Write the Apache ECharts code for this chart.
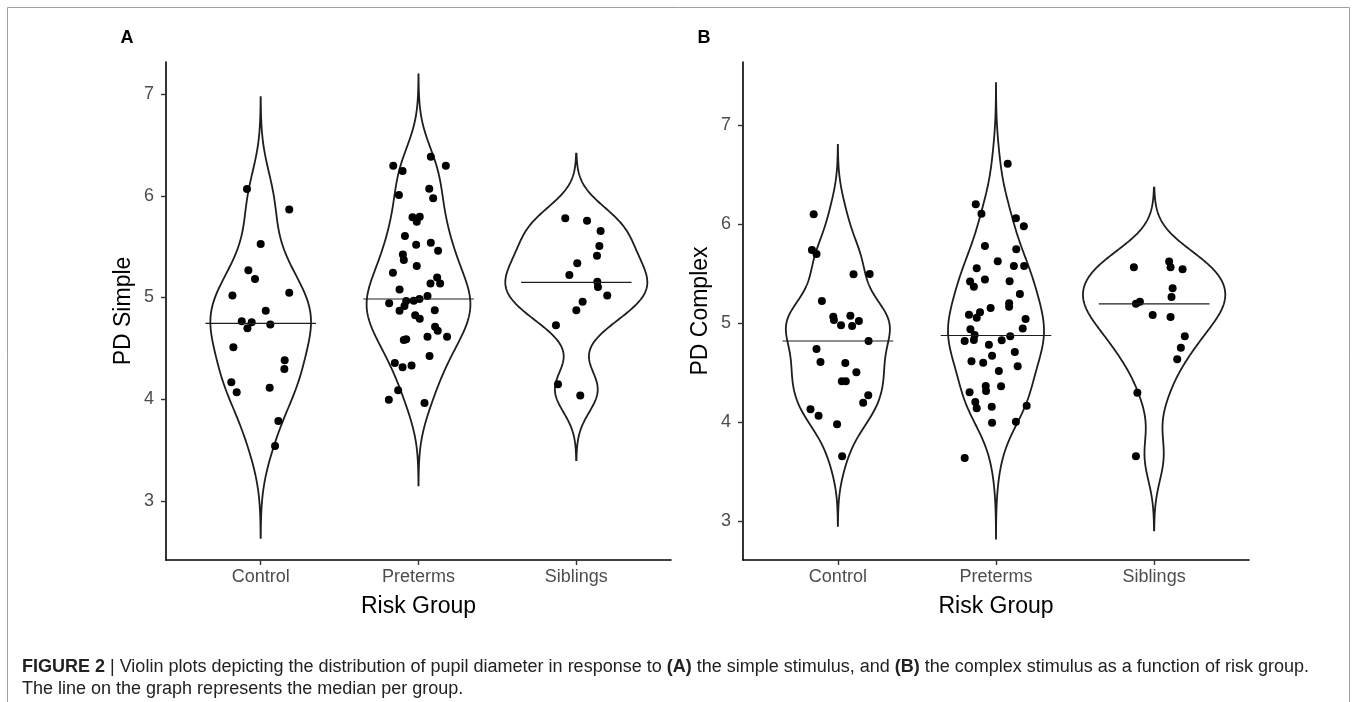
<!DOCTYPE html>
<html>
<head>
<meta charset="utf-8">
<script src="https://cdn.jsdelivr.net/npm/echarts@6/dist/echarts.min.js"></script>
<style>
html,body{margin:0;padding:0;background:#fff;}
#chart{width:1357px;height:702px;}
</style>
</head>
<body>
<div id="chart"></div>
<script>
// ---------- data ----------
const groups = ['Control', 'Preterms', 'Siblings'];
const yTicksSimple = [3, 4, 5, 6, 7];
const yTicksComplex = [3, 4, 5, 6, 7];

// [horizontal jitter offset from group centre, pupil diameter]
const simpleControl = [[-0.087,6.066],[0.181,5.866],[0.0,5.526],[-0.078,5.267],[-0.036,5.182],[-0.179,5.021],[0.181,5.047],[0.032,4.871],[-0.120,4.766],[-0.057,4.756],[-0.084,4.697],[0.061,4.736],[-0.173,4.510],[0.152,4.383],[0.150,4.297],[-0.186,4.166],[-0.152,4.068],[0.057,4.114],[0.112,3.786],[0.091,3.541]];
const simplePreterms = [[-0.160,6.296],[-0.101,6.243],[0.078,6.384],[0.173,6.296],[-0.124,6.007],[0.068,6.070],[0.093,5.975],[-0.038,5.788],[0.008,5.794],[-0.011,5.745],[-0.086,5.604],[-0.015,5.519],[0.078,5.539],[0.124,5.460],[-0.099,5.424],[-0.093,5.368],[-0.011,5.310],[-0.162,5.244],[0.118,5.198],[0.076,5.139],[0.137,5.139],[-0.120,5.080],[0.057,5.015],[-0.186,4.943],[-0.078,4.966],[-0.030,4.969],[0.006,4.985],[-0.120,4.871],[-0.089,4.917],[0.103,4.875],[-0.021,4.825],[0.008,4.792],[0.105,4.713],[0.122,4.674],[0.181,4.615],[0.057,4.615],[-0.093,4.582],[-0.078,4.589],[0.070,4.425],[-0.150,4.356],[-0.101,4.314],[-0.044,4.333],[-0.129,4.088],[-0.188,3.996],[0.038,3.963]];
const simpleSiblings = [[-0.070,5.778],[0.068,5.755],[0.154,5.654],[0.146,5.506],[0.131,5.411],[0.006,5.336],[-0.044,5.221],[0.133,5.156],[0.137,5.103],[0.196,5.021],[0.040,4.959],[0.000,4.874],[-0.129,4.727],[-0.116,4.147],[0.025,4.038]];

const complexControl = [[-0.153,6.098],[-0.164,5.737],[-0.135,5.697],[0.099,5.492],[0.201,5.495],[-0.101,5.222],[-0.029,5.064],[-0.025,5.030],[0.079,5.074],[0.133,5.020],[0.020,4.976],[0.090,4.970],[0.194,4.818],[-0.135,4.737],[-0.110,4.606],[0.047,4.596],[0.117,4.502],[0.025,4.411],[0.050,4.411],[0.192,4.269],[0.160,4.195],[-0.173,4.128],[-0.122,4.064],[-0.005,3.976],[0.027,3.653]];
const complexPreterms = [[0.074,6.609],[-0.128,6.199],[-0.092,6.104],[0.126,6.057],[0.176,5.976],[-0.070,5.778],[0.128,5.744],[0.011,5.623],[0.113,5.576],[0.178,5.576],[-0.122,5.552],[-0.070,5.438],[-0.164,5.418],[-0.140,5.367],[0.086,5.421],[0.151,5.293],[0.083,5.199],[0.083,5.165],[-0.034,5.152],[-0.101,5.108],[-0.171,5.084],[-0.122,5.054],[0.187,5.040],[-0.162,4.936],[0.169,4.943],[-0.135,4.879],[-0.198,4.818],[-0.140,4.828],[0.036,4.825],[0.090,4.865],[-0.045,4.781],[-0.025,4.670],[0.119,4.707],[-0.155,4.613],[-0.081,4.599],[0.018,4.515],[0.137,4.562],[-0.065,4.364],[-0.063,4.313],[0.032,4.360],[-0.167,4.300],[-0.131,4.202],[-0.122,4.138],[-0.027,4.155],[0.194,4.165],[-0.025,3.993],[0.126,4.003],[-0.198,3.636]];
const complexSiblings = [[-0.128,5.562],[0.095,5.620],[0.104,5.562],[0.180,5.542],[0.117,5.350],[0.110,5.263],[-0.115,5.195],[-0.090,5.215],[-0.009,5.081],[0.104,5.061],[0.194,4.865],[0.169,4.751],[0.146,4.633],[-0.106,4.296],[-0.115,3.653]];

const simpleMedians = [4.746, 4.985, 5.149];
const complexMedians = [4.818, 4.874, 5.193];

// ---------- helpers: violin density like ggplot2 (gaussian, bw.nrd0, trim = FALSE) ----------
function quantile7(s, p){ const h=(s.length-1)*p, lo=Math.floor(h), hi=Math.ceil(h); return s[lo]+(h-lo)*(s[hi]-s[lo]); }
function bwNrd0(v){
  const n=v.length, m=v.reduce((a,b)=>a+b,0)/n;
  const sd=Math.sqrt(v.reduce((a,b)=>a+(b-m)*(b-m),0)/(n-1));
  const s=[...v].sort((a,b)=>a-b);
  const iqr=quantile7(s,0.75)-quantile7(s,0.25);
  const lo=Math.min(sd, iqr/1.34);
  return 0.9*lo*Math.pow(n,-0.2);
}
function density(v){
  const bw=bwNrd0(v), mn=Math.min(...v), mx=Math.max(...v);
  const from=mn-3*bw, to=mx+3*bw, N=256, out=[];
  for(let i=0;i<N;i++){
    const y=from+(to-from)*i/(N-1); let d=0;
    for(const xi of v){ const z=(y-xi)/bw; d+=Math.exp(-0.5*z*z); }
    out.push([y, d/(v.length*bw*Math.sqrt(2*Math.PI))]);
  }
  return out;
}
function panelProfiles(sets){
  const prof=sets.map(s=>density(s.map(p=>p[1])));
  const mx=Math.max(...prof.map(p=>Math.max(...p.map(q=>q[1]))));
  return prof.map(p=>p.map(q=>[q[0], 0.45*q[1]/mx]));
}

const simpleSets=[simpleControl, simplePreterms, simpleSiblings];
const complexSets=[complexControl, complexPreterms, complexSiblings];
const profiles=[panelProfiles(simpleSets), panelProfiles(complexSets)];

function violinSeries(panel){
  return {
    type:'custom', xAxisIndex:panel, yAxisIndex:panel, silent:true, z:1,
    data: groups.map((g,i)=>[i+1, 5]),
    renderItem:function(params, api){
      const gi=params.dataIndex, prof=profiles[panel][gi], c=gi+1, pts=[];
      for(const q of prof) pts.push(api.coord([c+q[1], q[0]]));
      for(let i=prof.length-1;i>=0;i--) pts.push(api.coord([c-prof[i][1], prof[i][0]]));
      return {type:'polygon', shape:{points:pts}, style:{fill:'none', stroke:'#1e1e1e', lineWidth:1.8}};
    }
  };
}
function pointSeries(panel, sets){
  const data=[];
  sets.forEach((s,gi)=>s.forEach(p=>data.push([gi+1+p[0], p[1]])));
  return {type:'scatter', xAxisIndex:panel, yAxisIndex:panel, data, symbolSize:8, silent:true, z:3,
          itemStyle:{color:'#000', opacity:1}};
}
function medianSeries(panel, meds){
  return {
    type:'custom', xAxisIndex:panel, yAxisIndex:panel, silent:true, z:4,
    data: meds.map((m,i)=>[i+1, m]),
    renderItem:function(params, api){
      const c=api.value(0), m=api.value(1);
      const a=api.coord([c-0.35, m]), b=api.coord([c+0.35, m]);
      return {type:'line', shape:{x1:a[0], y1:a[1], x2:b[0], y2:b[1]}, style:{stroke:'#1e1e1e', lineWidth:1.1}};
    }
  };
}
function xAxisDef(idx){
  return {
    type:'value', gridIndex:idx, min:0.4, max:3.6,
    splitLine:{show:false},
    axisLine:{show:true, onZero:false, lineStyle:{color:'#000', width:1.6}},
    axisTick:{show:true, customValues:[1,2,3], length:5, lineStyle:{color:'#333', width:1.4}},
    axisLabel:{customValues:[1,2,3], formatter:v=>groups[Math.round(v)-1], color:'#4d4d4d', fontSize:18, margin:8},
    name:'Risk Group', nameLocation:'middle', nameGap:35,
    nameTextStyle:{color:'#000', fontSize:23}
  };
}
function yAxisDef(idx, min, max, ticks, name){
  return {
    type:'value', gridIndex:idx, min, max,
    splitLine:{show:false},
    axisLine:{show:true, onZero:false, lineStyle:{color:'#000', width:1.6}},
    axisTick:{show:true, customValues:ticks, length:5, lineStyle:{color:'#333', width:1.4}},
    axisLabel:{customValues:ticks, color:'#4d4d4d', fontSize:18, margin:12},
    name, nameLocation:'middle', nameRotate:90, nameGap:31,
    nameTextStyle:{color:'#000', fontSize:23}
  };
}

const capFont='Liberation Sans, Arial, sans-serif';
const chart=echarts.init(document.getElementById('chart'), null, {renderer:'canvas'});
chart.setOption({
  animation:false,
  backgroundColor:'#fff',
  textStyle:{fontFamily:'Liberation Sans, Arial, sans-serif'},
  grid:[
    {left:166, right:686, top:62, bottom:142, containLabel:false},
    {left:743, right:108, top:62, bottom:142, containLabel:false}
  ],
  xAxis:[xAxisDef(0), xAxisDef(1)],
  yAxis:[
    yAxisDef(0, 2.42, 7.315, yTicksSimple, 'PD Simple'),
    yAxisDef(1, 2.606, 7.636, yTicksComplex, 'PD Complex')
  ],
  series:[
    violinSeries(0), pointSeries(0, simpleSets), medianSeries(0, simpleMedians),
    violinSeries(1), pointSeries(1, complexSets), medianSeries(1, complexMedians)
  ],
  graphic:[
    {type:'rect', shape:{x:7.5, y:7.5, width:1342, height:720}, style:{fill:'none', stroke:'#a0a0a0', lineWidth:1}, silent:true},
    {type:'text', x:127, y:38, style:{text:'A', font:'bold 18px "Liberation Sans", Arial, sans-serif', fill:'#000', align:'center', verticalAlign:'middle'}},
    {type:'text', x:704, y:38, style:{text:'B', font:'bold 18px "Liberation Sans", Arial, sans-serif', fill:'#000', align:'center', verticalAlign:'middle'}},
    {type:'text', x:22, y:667, style:{
      text:'{b|FIGURE 2} | Violin plots depicting the distribution of pupil diameter in response to {b|(A)} the simple stimulus, and {b|(B)} the complex stimulus as a function of risk group.',
      rich:{b:{fontWeight:'bold', fontSize:18, fontFamily:capFont, fill:'#222'}},
      fontSize:18, fontFamily:capFont, fill:'#222', verticalAlign:'middle'}},
    {type:'text', x:22, y:689, style:{
      text:'The line on the graph represents the median per group.',
      fontSize:18, fontFamily:capFont, fill:'#222', verticalAlign:'middle'}}
  ]
});
</script>
</body>
</html>
